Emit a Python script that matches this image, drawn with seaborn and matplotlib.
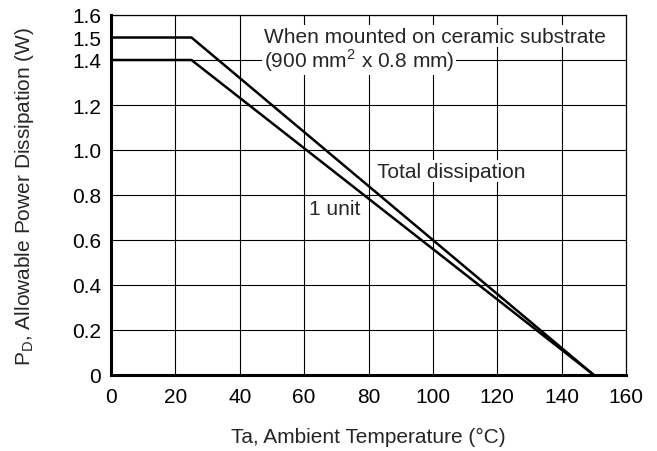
import pandas as pd
import seaborn as sns
import matplotlib
matplotlib.use("Agg")
import matplotlib.pyplot as plt

# Derating curve data
temp = [0, 25, 150]
total_pd = [1.5, 1.5, 0.0]
unit_pd = [1.4, 1.4, 0.0]

x_ticks = [0, 20, 40, 60, 80, 100, 120, 140, 160]
y_ticks = [0, 0.2, 0.4, 0.6, 0.8, 1.0, 1.2, 1.4, 1.5, 1.6]
y_labels = ["0", "0.2", "0.4", "0.6", "0.8", "1.0", "1.2", "1.4", "1.5", "1.6"]
y_grid = [0.2, 0.4, 0.6, 0.8, 1.0, 1.2, 1.4, 1.6]

df = pd.DataFrame({
    "Ta": temp * 2,
    "PD": total_pd + unit_pd,
    "curve": ["Total dissipation"] * 3 + ["1 unit"] * 3,
})

sns.set_theme(style="white")
plt.rcParams["font.family"] = ["Liberation Sans", "DejaVu Sans"]
FS = 15

fig = plt.figure(figsize=(6.57, 4.52), dpi=100)
ax = fig.add_axes([111 / 657, 1 - 376 / 452, 515 / 657, 360 / 452])

# grid lines (thin black)
for x in x_ticks[1:-1]:
    ax.axvline(x, color="black", lw=0.8, zorder=1)
for y in y_grid:
    ax.axhline(y, color="black", lw=0.8, zorder=1)

sns.lineplot(data=df, x="Ta", y="PD", units="curve", estimator=None,
             color="black", lw=1.8, legend=False, ax=ax, zorder=3)

ax.set_xlim(0, 160)
ax.set_ylim(0, 1.6)
ax.set_xticks(x_ticks)
ax.set_yticks(y_ticks)
ax.set_yticklabels(y_labels)
ax.tick_params(axis="both", labelsize=FS, length=0, colors="black")
ax.tick_params(axis="x", pad=9)
ax.tick_params(axis="y", pad=7)

for side in ["left", "bottom"]:
    ax.spines[side].set_linewidth(2.2)
    ax.spines[side].set_color("black")
for side in ["top", "right"]:
    ax.spines[side].set_linewidth(0.9)
    ax.spines[side].set_color("black")

ax.set_xlabel("Ta, Ambient Temperature (°C)", fontsize=FS, labelpad=15)
ax.set_ylabel("P$_\\mathregular{D}$, Allowable Power Dissipation (W)", fontsize=FS, labelpad=26)

box = dict(facecolor="white", edgecolor="none", pad=1)
ax.text(47.5, 1.505, "When mounted on ceramic substrate", fontsize=FS,
        va="center", ha="left", bbox=box, zorder=4)
ax.text(47.5, 1.40, "(900 mm$^\\mathregular{2}$ x 0.8 mm)", fontsize=FS,
        va="center", ha="left", bbox=box, zorder=4)
ax.text(82.5, 0.905, "Total dissipation", fontsize=FS, va="center", ha="left",
        bbox=box, zorder=2)
ax.text(61.5, 0.74, "1 unit", fontsize=FS, va="center", ha="left",
        bbox=box, zorder=2)

fig.savefig("out.png", dpi=100)
